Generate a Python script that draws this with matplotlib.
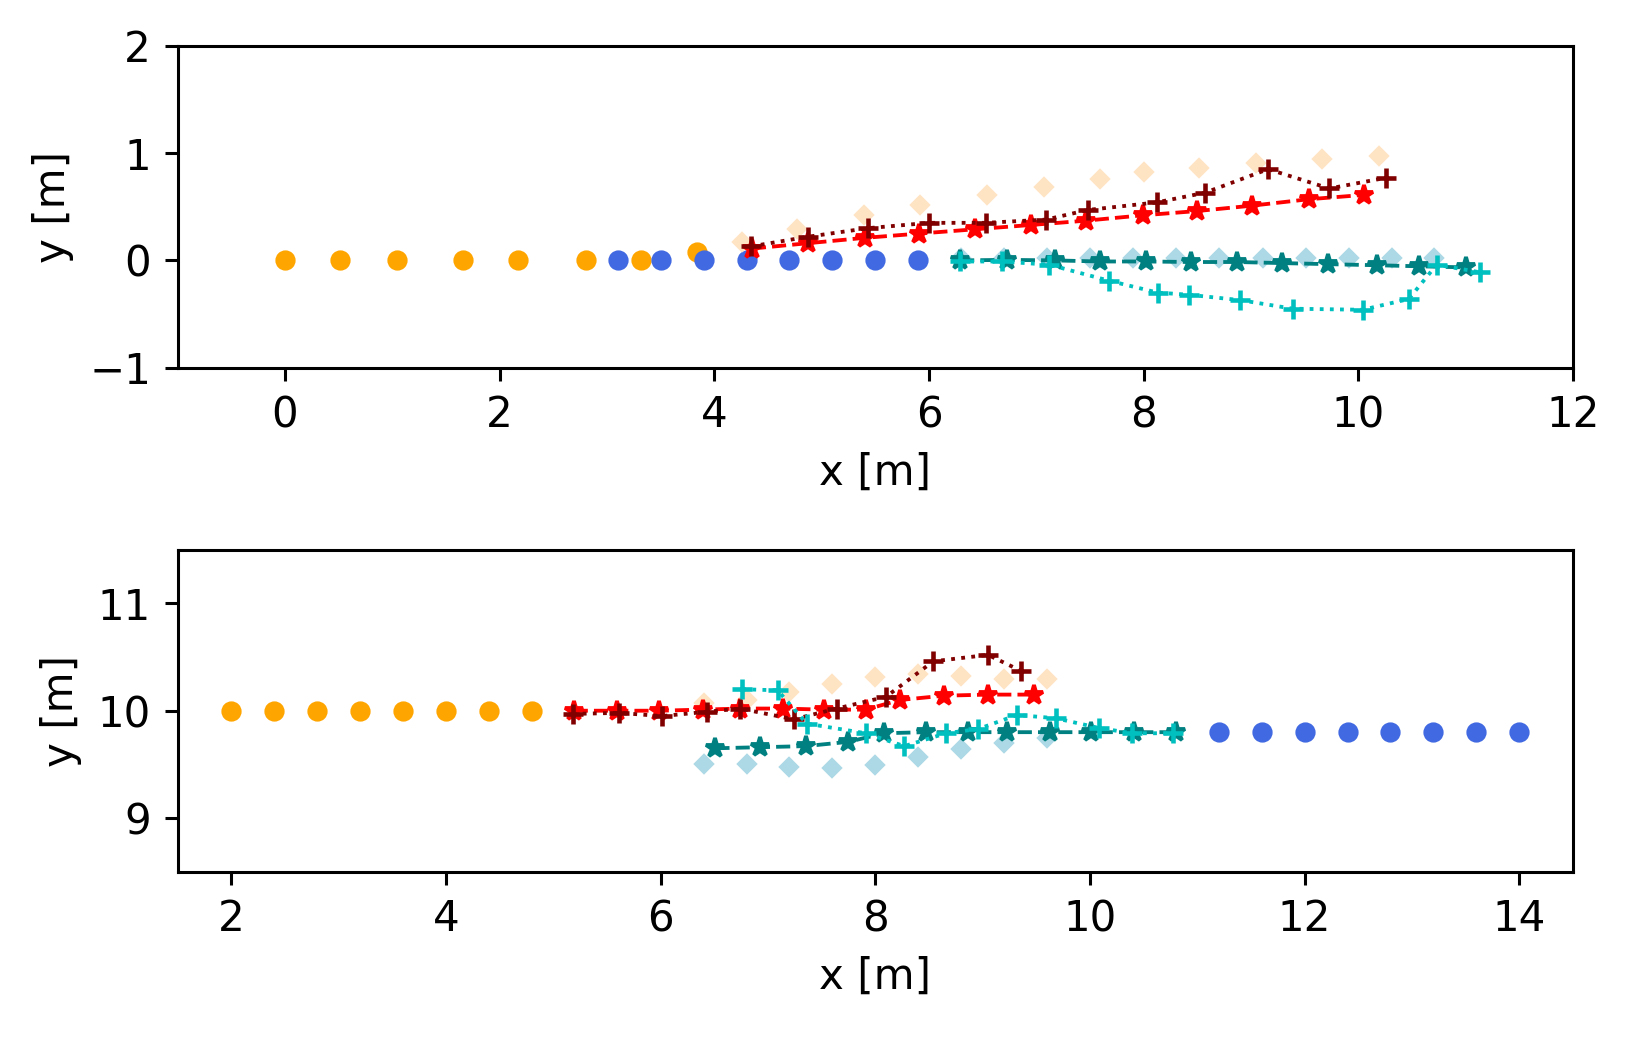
import matplotlib
matplotlib.use('Agg')
import matplotlib.pyplot as plt

plt.rcParams['font.size'] = 11

# ---- top scene ----
top_orange_x = [0.0, 0.51, 1.04, 1.66, 2.17, 2.80, 3.32, 3.84]
top_orange_y = [0.0, 0.0, 0.0, 0.0, 0.0, 0.0, 0.0, 0.08]
top_blue_x = [3.1, 3.5, 3.9, 4.3, 4.7, 5.1, 5.5, 5.9]
top_blue_y = [0.0, 0.0, 0.0, 0.0, 0.0, 0.0, 0.0, 0.0]
top_peach_x = [4.26, 4.77, 5.39, 5.92, 6.54, 7.07, 7.59, 8.00, 8.52, 9.05, 9.66, 10.19]
top_peach_y = [0.17, 0.29, 0.42, 0.52, 0.61, 0.68, 0.76, 0.82, 0.86, 0.91, 0.94, 0.97]
top_lblue_x = [6.30, 6.70, 7.10, 7.50, 7.90, 8.30, 8.70, 9.11, 9.51, 9.91, 10.31, 10.71]
top_lblue_y = [0.02, 0.02, 0.02, 0.02, 0.02, 0.02, 0.02, 0.02, 0.02, 0.02, 0.02, 0.02]
top_red_x = [4.35, 4.87, 5.40, 5.91, 6.43, 6.95, 7.46, 7.99, 8.50, 9.01, 9.54, 10.05]
top_red_y = [0.11, 0.16, 0.21, 0.25, 0.29, 0.33, 0.37, 0.42, 0.46, 0.51, 0.57, 0.61]
top_teal_x = [6.29, 6.73, 7.17, 7.59, 8.02, 8.44, 8.87, 9.29, 9.72, 10.17, 10.57, 11.00]
top_teal_y = [0.0, 0.005, 0.0, -0.01, -0.01, -0.015, -0.015, -0.025, -0.035, -0.045, -0.055, -0.065]
top_maroon_x = [4.34, 4.87, 5.43, 6.00, 6.53, 7.09, 7.48, 8.12, 8.57, 9.16, 9.73, 10.26]
top_maroon_y = [0.13, 0.22, 0.30, 0.35, 0.35, 0.38, 0.47, 0.54, 0.63, 0.85, 0.67, 0.77]
top_cyan_x = [6.29, 6.68, 7.12, 7.68, 8.13, 8.42, 8.90, 9.39, 10.04, 10.47, 10.73, 11.13]
top_cyan_y = [-0.01, -0.01, -0.04, -0.19, -0.30, -0.32, -0.37, -0.45, -0.46, -0.36, -0.04, -0.11]

# ---- bottom scene ----
bot_orange_x = [2.0, 2.4, 2.8, 3.2, 3.6, 4.0, 4.4, 4.8]
bot_orange_y = [10.0, 10.0, 10.0, 10.0, 10.0, 10.0, 10.0, 10.0]
bot_blue_x = [11.2, 11.6, 12.0, 12.4, 12.8, 13.2, 13.6, 14.0]
bot_blue_y = [9.8, 9.8, 9.8, 9.8, 9.8, 9.8, 9.8, 9.8]
bot_peach_x = [6.4, 6.8, 7.2, 7.6, 8.0, 8.4, 8.8, 9.2, 9.6]
bot_peach_y = [10.07, 10.10, 10.17, 10.25, 10.31, 10.34, 10.32, 10.30, 10.30]
bot_lblue_x = [6.4, 6.8, 7.2, 7.6, 8.0, 8.4, 8.8, 9.2, 9.6]
bot_lblue_y = [9.50, 9.50, 9.48, 9.47, 9.49, 9.57, 9.64, 9.70, 9.75]
bot_red_x = [5.19, 5.59, 5.98, 6.39, 6.74, 7.14, 7.52, 7.91, 8.23, 8.64, 9.05, 9.48]
bot_red_y = [10.0, 10.0, 10.0, 10.01, 10.02, 10.02, 10.01, 10.01, 10.10, 10.14, 10.15, 10.15]
bot_teal_x = [6.51, 6.93, 7.35, 7.75, 8.08, 8.47, 8.86, 9.23, 9.63, 10.01, 10.41, 10.80]
bot_teal_y = [9.65, 9.66, 9.67, 9.71, 9.79, 9.80, 9.80, 9.80, 9.80, 9.80, 9.80, 9.80]
bot_maroon_x = [5.18, 5.61, 6.01, 6.43, 6.74, 7.24, 7.64, 8.10, 8.54, 9.05, 9.36]
bot_maroon_y = [9.97, 9.98, 9.95, 9.99, 10.02, 9.92, 10.02, 10.13, 10.46, 10.52, 10.37]
bot_cyan_x = [6.76, 7.09, 7.36, 7.91, 8.27, 8.66, 8.96, 9.32, 9.68, 10.08, 10.39, 10.77]
bot_cyan_y = [10.20, 10.19, 9.88, 9.79, 9.67, 9.79, 9.83, 9.96, 9.93, 9.84, 9.79, 9.79]

fig = plt.figure(figsize=(1630/275, 1039/275), dpi=275)
ax1 = fig.add_subplot(211)
ax2 = fig.add_subplot(212)
fig.subplots_adjust(left=0.109, right=0.965, top=0.956, bottom=0.161, hspace=0.565)


def scene(ax, d):
    ax.plot(d[0], d[1], 'o', color='orange', ms=4.3, ls='none')
    ax.plot(d[2], d[3], 'o', color='royalblue', ms=4.3, ls='none')
    ax.plot(d[4], d[5], 'D', color='bisque', ms=3.0, ls='none')
    ax.plot(d[6], d[7], 'D', color='lightblue', ms=3.0, ls='none')
    ax.plot(d[8], d[9], '*--', color='r', ms=5, lw=1)
    ax.plot(d[10], d[11], '*--', color='teal', ms=5, lw=1)
    ax.plot(d[12], d[13], '+:', color='maroon', ms=5, mew=1.2, lw=1)
    ax.plot(d[14], d[15], '+:', color='c', ms=5, mew=1.2, lw=1)
    ax.set_xlabel('x [m]')
    ax.set_ylabel('y [m]')


scene(ax1, [top_orange_x, top_orange_y, top_blue_x, top_blue_y, top_peach_x, top_peach_y,
            top_lblue_x, top_lblue_y, top_red_x, top_red_y, top_teal_x, top_teal_y,
            top_maroon_x, top_maroon_y, top_cyan_x, top_cyan_y])
ax1.set_xlim(-1, 12)
ax1.set_ylim(-1, 2)

scene(ax2, [bot_orange_x, bot_orange_y, bot_blue_x, bot_blue_y, bot_peach_x, bot_peach_y,
            bot_lblue_x, bot_lblue_y, bot_red_x, bot_red_y, bot_teal_x, bot_teal_y,
            bot_maroon_x, bot_maroon_y, bot_cyan_x, bot_cyan_y])
ax2.set_xlim(1.5, 14.5)
ax2.set_ylim(8.5, 11.5)

plt.savefig('out.png', dpi=275)
